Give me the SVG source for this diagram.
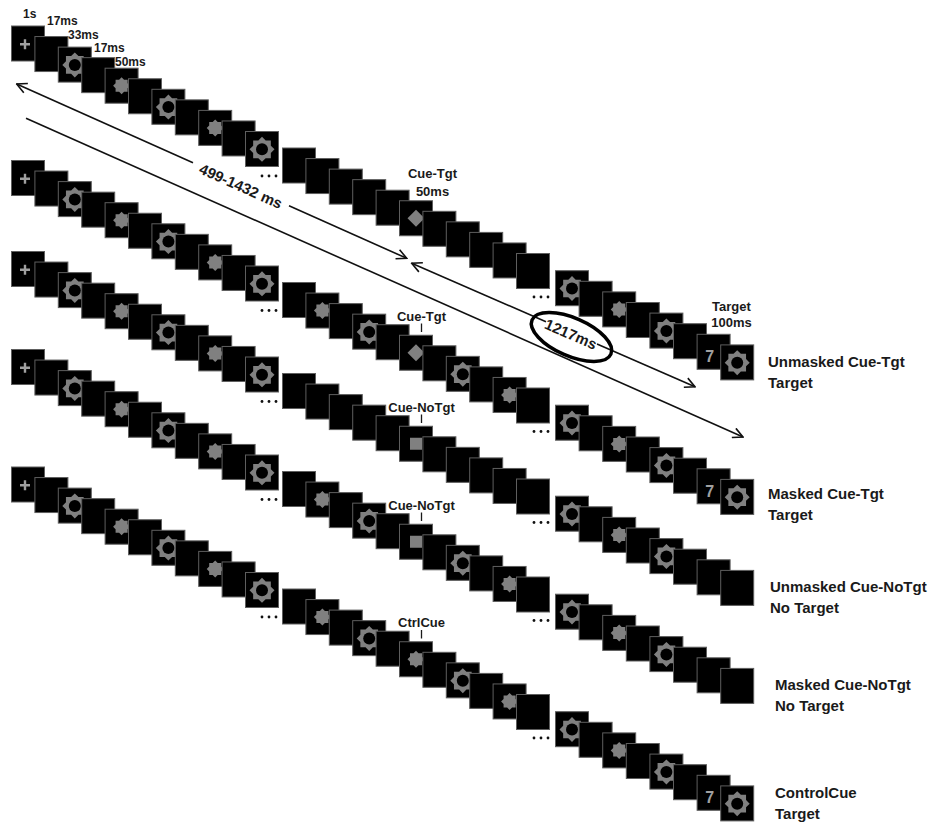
<svg xmlns="http://www.w3.org/2000/svg" xmlns:xlink="http://www.w3.org/1999/xlink" width="940" height="822" viewBox="0 0 940 822">
<style>
.fr{fill:#000;stroke:#5e5e5e;stroke-width:1}
.gy{fill:#808080}
.plus{stroke:#a0a0a0;stroke-width:2.4;fill:none}
.seven{font-family:"Liberation Sans",Arial,sans-serif;font-weight:bold;font-size:16px;fill:#a0a0a0;text-anchor:middle}
.lbl{font-family:"Liberation Sans",Arial,sans-serif;font-weight:bold;font-size:15px;fill:#1a1a1a}
.sm{font-family:"Liberation Sans",Arial,sans-serif;font-weight:bold;font-size:12px;fill:#1a1a1a}
.smc{font-family:"Liberation Sans",Arial,sans-serif;font-weight:bold;font-size:13px;fill:#1a1a1a;text-anchor:middle}
.tick{stroke:#1a1a1a;stroke-width:1.3}
.ln{stroke:#111;stroke-width:1.6;fill:none}
.dot{fill:#111}
</style>
<defs>
<marker id="ah" viewBox="0 0 12 12" refX="11" refY="6" markerWidth="12" markerHeight="12" markerUnits="userSpaceOnUse" orient="auto-start-reverse">
<path d="M1,1 L11,6 L1,11" fill="none" stroke="#111" stroke-width="1.6"/>
</marker>
<polygon id="star" points="0,-12.5 3.66,-8.84 8.84,-8.84 8.84,-3.66 12.5,0 8.84,3.66 8.84,8.84 3.66,8.84 0,12.5 -3.66,8.84 -8.84,8.84 -8.84,3.66 -12.5,0 -8.84,-3.66 -8.84,-8.84 -3.66,-8.84"/>
<g id="fb"><rect class="fr" width="33" height="35"/></g>
<g id="fp"><rect class="fr" width="33" height="35"/><path class="plus" d="M8.5,18.3h10M13.5,13.3v10"/></g>
<g id="fg"><rect class="fr" width="33" height="35"/><use href="#star" class="gy" transform="translate(16.5,17.8)"/><circle cx="16.5" cy="17.8" r="6" fill="#000"/></g>
<g id="fs"><rect class="fr" width="33" height="35"/><use href="#star" class="gy" transform="translate(16.5,17.5) scale(0.68)"/></g>
<g id="fd"><rect class="fr" width="33" height="35"/><path class="gy" d="M16.5,9 L25,17.5 L16.5,26 L8,17.5Z"/></g>
<g id="fq"><rect class="fr" width="33" height="35"/><rect class="gy" x="10.5" y="11.5" width="12" height="12"/></g>
<g id="f7"><rect class="fr" width="33" height="35"/><text class="seven" x="12.5" y="28">7</text></g>

<g id="seg1">
<use href="#fp" x="11.5" y="26"/>
<use href="#fb" x="34.9" y="36.55"/>
<use href="#fg" x="58.3" y="47.1"/>
<use href="#fb" x="81.7" y="57.65"/>
<use href="#fs" x="105.1" y="68.2"/>
<use href="#fb" x="128.5" y="78.75"/>
<use href="#fg" x="151.9" y="89.3"/>
<use href="#fb" x="175.3" y="99.85"/>
<use href="#fs" x="198.7" y="110.4"/>
<use href="#fb" x="222.1" y="120.95"/>
<use href="#fg" x="245.5" y="131.5"/>
<circle class="dot" cx="262" cy="176" r="1.4"/><circle class="dot" cx="269" cy="176" r="1.4"/><circle class="dot" cx="276" cy="176" r="1.4"/>
</g>
<g id="dots2"><circle class="dot" cx="534" cy="297" r="1.4"/><circle class="dot" cx="541" cy="297" r="1.4"/><circle class="dot" cx="548" cy="297" r="1.4"/></g>

<g id="seg2u">
<use href="#fb" x="282.5" y="148"/>
<use href="#fb" x="305.9" y="158.55"/>
<use href="#fb" x="329.3" y="169.1"/>
<use href="#fb" x="352.7" y="179.65"/>
<use href="#fb" x="376.1" y="190.2"/>
</g>
<g id="seg2ua">
<use href="#fb" x="422.9" y="211.3"/>
<use href="#fb" x="446.3" y="221.85"/>
<use href="#fb" x="469.7" y="232.4"/>
<use href="#fb" x="493.1" y="242.95"/>
<use href="#fb" x="516.5" y="253.5"/>
<use href="#dots2"/>
</g>
<g id="seg2m">
<use href="#fb" x="282.5" y="148"/>
<use href="#fs" x="305.9" y="158.55"/>
<use href="#fb" x="329.3" y="169.1"/>
<use href="#fg" x="352.7" y="179.65"/>
<use href="#fb" x="376.1" y="190.2"/>
</g>
<g id="seg2ma">
<use href="#fb" x="422.9" y="211.3"/>
<use href="#fg" x="446.3" y="221.85"/>
<use href="#fb" x="469.7" y="232.4"/>
<use href="#fs" x="493.1" y="242.95"/>
<use href="#fb" x="516.5" y="253.5"/>
<use href="#dots2"/>
</g>
<g id="seg3a">
<use href="#fg" x="555.5" y="270.7"/>
<use href="#fb" x="579.1" y="281.3"/>
<use href="#fs" x="602.7" y="291.9"/>
<use href="#fb" x="626.3" y="302.5"/>
<use href="#fg" x="649.9" y="313.1"/>
<use href="#fb" x="673.5" y="323.7"/>
</g>
</defs>

<rect width="940" height="822" fill="#fff"/>

<g id="trial-unmasked-cue-tgt">
<use href="#seg1"/>
<use href="#seg2u"/>
<use href="#fd" x="399.5" y="200.75"/>
<use href="#seg2ua"/>
<use href="#seg3a"/>
<use href="#f7" x="697.1" y="334.3"/>
<use href="#fg" x="720.7" y="344.9"/>
<text class="sm" x="23" y="18">1s</text>
<text class="sm" x="47" y="25">17ms</text>
<text class="sm" x="68" y="38.5">33ms</text>
<text class="sm" x="94" y="52">17ms</text>
<text class="sm" x="115" y="65.5">50ms</text>
<text class="smc" x="432.5" y="178">Cue-Tgt</text>
<text class="smc" x="432.5" y="196">50ms</text>
<text class="smc" x="731.5" y="311">Target</text>
<text class="smc" x="731.5" y="327">100ms</text>
<text class="lbl" x="768" y="366.5">Unmasked Cue-Tgt</text>
<text class="lbl" x="768" y="388">Target</text>
</g>

<g id="trial-masked-cue-tgt" transform="translate(0,134.5)">
<use href="#seg1"/>
<use href="#seg2m"/>
<use href="#fd" x="399.5" y="200.75"/>
<use href="#seg2ma"/>
<use href="#seg3a"/>
<use href="#f7" x="697.1" y="334.3"/>
<use href="#fg" x="720.7" y="344.9"/>
<text class="smc" x="421.5" y="186.5">Cue-Tgt</text>
<line class="tick" x1="421.5" y1="189" x2="421.5" y2="197.5"/>
<text class="lbl" x="768" y="364.5">Masked Cue-Tgt</text>
<text class="lbl" x="768" y="385.5">Target</text>
</g>

<g id="trial-unmasked-cue-notgt" transform="translate(0,225.5)">
<use href="#seg1"/>
<use href="#seg2u"/>
<use href="#fq" x="399.5" y="200.75"/>
<use href="#seg2ua"/>
<use href="#seg3a"/>
<use href="#fb" x="697.1" y="334.3"/>
<use href="#fb" x="720.7" y="344.9"/>
<text class="smc" x="421.5" y="186">Cue-NoTgt</text>
<line class="tick" x1="421.5" y1="189" x2="421.5" y2="197.5"/>
<text class="lbl" x="770" y="366">Unmasked Cue-NoTgt</text>
<text class="lbl" x="770" y="387.5">No Target</text>
</g>

<g id="trial-masked-cue-notgt" transform="translate(0,323.5)">
<use href="#seg1"/>
<use href="#seg2m"/>
<use href="#fq" x="399.5" y="200.75"/>
<use href="#seg2ma"/>
<use href="#seg3a"/>
<use href="#fb" x="697.1" y="334.3"/>
<use href="#fb" x="720.7" y="344.9"/>
<text class="smc" x="421.5" y="186">Cue-NoTgt</text>
<line class="tick" x1="421.5" y1="189" x2="421.5" y2="197.5"/>
<text class="lbl" x="775" y="366">Masked Cue-NoTgt</text>
<text class="lbl" x="775" y="387">No Target</text>
</g>

<g id="trial-controlcue" transform="translate(0,441)">
<use href="#seg1"/>
<use href="#seg2m"/>
<use href="#fs" x="399.5" y="200.75"/>
<use href="#seg2ma"/>
<use href="#seg3a"/>
<use href="#f7" x="697.1" y="334.3"/>
<use href="#fg" x="720.7" y="344.9"/>
<text class="smc" x="421.5" y="186">CtrlCue</text>
<line class="tick" x1="421.5" y1="189" x2="421.5" y2="197.5"/>
<text class="lbl" x="775" y="357">ControlCue</text>
<text class="lbl" x="775" y="377.5">Target</text>
</g>

<g id="connectors">
<line class="ln" x1="16.7" y1="84" x2="193" y2="162.8" marker-start="url(#ah)"/>
<line class="ln" x1="289" y1="205.7" x2="406.7" y2="258.3" marker-end="url(#ah)"/>
<text class="lbl" x="241" y="186" text-anchor="middle" dominant-baseline="central" transform="rotate(24.1 241 186)">499-1432 ms</text>
<line class="ln" x1="411.7" y1="263.3" x2="546" y2="321.8" marker-start="url(#ah)"/>
<line class="ln" x1="597" y1="344" x2="695" y2="386.7" marker-end="url(#ah)"/>
<ellipse cx="571.5" cy="337" rx="43" ry="19" fill="none" stroke="#000" stroke-width="3.5" transform="rotate(23.5 571.5 337)"/>
<text class="lbl" x="571" y="334" font-size="14.5" text-anchor="middle" dominant-baseline="central" transform="rotate(23.5 571 334)">1217ms</text>
<line class="ln" x1="26" y1="118.3" x2="743" y2="437" marker-end="url(#ah)"/>
</g>
</svg>
